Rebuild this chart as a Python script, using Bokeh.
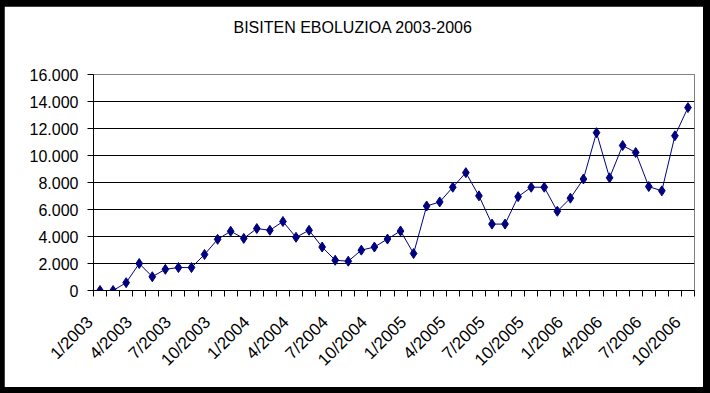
from bokeh.plotting import figure
from bokeh.models import FixedTicker, Range1d, Title, ColumnDataSource
from bokeh.embed import file_html
from bokeh.resources import INLINE
from math import pi

# ---- data ----
months = [f"{m}/{y}" for y in (2003, 2004, 2005, 2006) for m in range(1, 13)][:46]
visits = [0, 0, 580, 2000, 1020, 1570, 1700, 1700, 2670, 3790, 4390, 3860,
          4590, 4460, 5110, 3940, 4460, 3220, 2240, 2170, 2990, 3220, 3810, 4410,
          2740, 6260, 6560, 7650, 8730, 7010, 4920, 4920, 6950, 7650, 7650, 5870,
          6840, 8260, 11690, 8350, 10740, 10220, 7700, 7380, 11460, 13550]
y_ticks = [0, 2000, 4000, 6000, 8000, 10000, 12000, 14000, 16000]
y_tick_labels = ["0", "2.000", "4.000", "6.000", "8.000", "10.000", "12.000", "14.000", "16.000"]
title_text = "BISITEN EBOLUZIOA 2003-2006"

idx = list(range(len(months)))
src = ColumnDataSource(dict(x=idx, y=visits, month=months))

FONT = "Liberation Sans"

p = figure(width=699, height=381, output_backend="svg", toolbar_location=None,
           x_range=Range1d(-0.5, len(months) - 0.5), y_range=Range1d(y_ticks[0], y_ticks[-1]),
           min_border_left=89, min_border_right=9, min_border_top=0, min_border_bottom=97)
p.title.visible = False
p.background_fill_color = "white"
p.border_fill_color = "white"
p.outline_line_color = "#808080"
p.outline_line_width = 1

# grid
p.xgrid.visible = False
p.ygrid.grid_line_color = "black"
p.ygrid.grid_line_width = 1
p.ygrid.ticker = FixedTicker(ticks=y_ticks)

# y axis
p.yaxis.ticker = FixedTicker(ticks=y_ticks)
p.yaxis.major_label_overrides = {t: l for t, l in zip(y_ticks, y_tick_labels)}
p.yaxis.major_tick_out = 6
p.yaxis.major_tick_in = 0
p.yaxis.minor_tick_line_color = None
p.yaxis.axis_line_color = "black"
p.yaxis.major_tick_line_color = "black"
p.yaxis.major_label_text_font = FONT
p.yaxis.major_label_text_font_size = "16px"
p.yaxis.major_label_text_color = "black"
p.yaxis.major_label_standoff = 9

# x axis (labels every 3rd month, ticks between months)
label_pos = idx[::3]
pad = "\u00a0\u00a0\u00a0"  # keeps the rotated label's end left of the month centre, as in Excel
p.xaxis.ticker = FixedTicker(ticks=label_pos, minor_ticks=[i - 0.5 for i in idx] + [idx[-1] + 0.5])
p.xaxis.major_label_overrides = {i: months[i] + pad for i in label_pos}
p.xaxis.major_tick_line_color = None
p.xaxis.major_tick_out = 0
p.xaxis.major_tick_in = 0
p.xaxis.minor_tick_out = 6
p.xaxis.minor_tick_in = 0
p.xaxis.minor_tick_line_color = "black"
p.xaxis.axis_line_color = "black"
p.xaxis.major_label_orientation = pi / 4
p.xaxis.major_label_text_font = FONT
p.xaxis.major_label_text_font_size = "17px"
p.xaxis.major_label_text_color = "black"
p.xaxis.major_label_standoff = 13

# series
p.line("x", "y", source=src, line_color="#000080", line_width=1)
p.scatter("x", "y", source=src, marker="diamond", size=10,
          fill_color="#000080", line_color="#000080")

# title (spacer panel next to the frame, then the real title on top)
p.add_layout(Title(text=" ", text_font=FONT, text_font_size="16px", standoff=5), "above")
p.add_layout(Title(text=title_text, text_font=FONT, text_font_size="16px",
                   text_font_style="normal", text_color="black",
                   align="left", offset=140, vertical_align="top", standoff=25), "above")

html = file_html(p, INLINE)
css = ("<style>html, body { background-color: #000000 !important; } "
       "body { padding: 6px 0 0 4px !important; box-sizing: border-box; }</style>")
html = html.replace("</head>", css + "\n</head>", 1)
open("out.html", "w").write(html)
